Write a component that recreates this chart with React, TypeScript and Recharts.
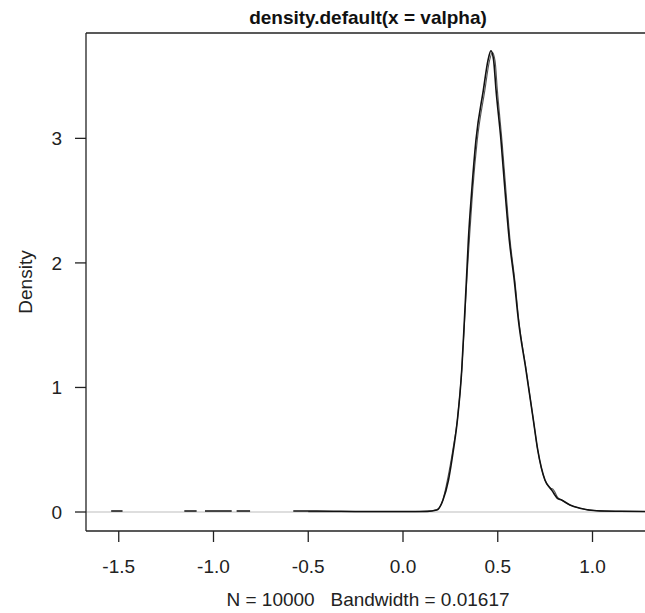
import React from 'react';
import { LineChart, Line, XAxis, YAxis, ReferenceLine, Label } from 'recharts';

// main density curve (black), null = gap where only the grey zero line shows
const curveAX = [-1.54, -1.48, -1.3, -1.154, -1.089, -1.067, -1.045, -0.904, -0.89, -0.878, -0.807, -0.7, -0.579, -0.455, -0.2, 0.0, 0.127, 0.179, 0.211, 0.24, 0.266, 0.287, 0.31, 0.324, 0.336, 0.345, 0.363, 0.385, 0.424, 0.449, 0.464, 0.478, 0.491, 0.517, 0.538, 0.561, 0.587, 0.609, 0.649, 0.688, 0.711, 0.749, 0.776, 0.79, 0.8, 0.815, 0.837, 0.881, 0.934, 1.022, 1.145, 1.303];
const curveAY = [0.008, 0.008, null, 0.008, 0.008, null, 0.008, 0.008, null, 0.008, 0.008, null, 0.008, 0.008, 0.004, 0.004, 0.005, 0.016, 0.096, 0.257, 0.498, 0.738, 1.14, 1.541, 1.902, 2.183, 2.585, 2.986, 3.387, 3.63, 3.704, 3.63, 3.387, 2.986, 2.585, 2.183, 1.862, 1.541, 1.14, 0.738, 0.498, 0.257, 0.193, 0.165, 0.14, 0.11, 0.096, 0.056, 0.03, 0.01, 0.006, 0.004];

// second, thinner curve laid over the first
const curveBX = [-0.5, 0.0, 0.127, 0.179, 0.211, 0.236, 0.263, 0.287, 0.31, 0.325, 0.338, 0.35, 0.368, 0.392, 0.432, 0.456, 0.472, 0.486, 0.498, 0.522, 0.543, 0.565, 0.59, 0.611, 0.65, 0.688, 0.711, 0.749, 0.776, 0.79, 0.8, 0.815, 0.837, 0.881, 0.934, 1.022, 1.145, 1.303];
const curveBY = [0.003, 0.003, 0.005, 0.02, 0.1, 0.27, 0.5, 0.74, 1.14, 1.54, 1.9, 2.18, 2.585, 2.986, 3.387, 3.62, 3.69, 3.62, 3.387, 2.986, 2.585, 2.183, 1.862, 1.541, 1.14, 0.738, 0.498, 0.257, 0.193, 0.185, 0.165, 0.12, 0.096, 0.056, 0.03, 0.01, 0.006, 0.004];

const xTicks = [-1.5, -1.0, -0.5, 0.0, 0.5, 1.0];
const yTicks = [0, 1, 2, 3];

const title = 'density.default(x = valpha)';
const xLabel = 'N = 10000   Bandwidth = 0.01617';
const yLabel = 'Density';

const dataA = curveAX.map((x, i) => ({ x, y: curveAY[i] }));
const dataB = curveBX.map((x, i) => ({ x, y: curveBY[i] }));

const X_DOMAIN = [-1.6728, 1.3034];
const Y_DOMAIN = [-0.1525, 3.846];
const FONT = '"Liberation Sans", Arial, sans-serif';
const INK = '#222';

const App: React.FC = () => {
  return (
    <div style={{ position: 'absolute', left: 0, top: 0, width: 645, height: 613, overflow: 'hidden', background: '#fff' }}>
      <LineChart width={650} height={613} margin={{ top: 0, right: 0, bottom: 0, left: 0 }} style={{ fontFamily: FONT }}>
        <XAxis
          xAxisId="top"
          orientation="top"
          type="number"
          dataKey="x"
          domain={X_DOMAIN}
          allowDataOverflow
          height={33}
          tick={false}
          tickLine={false}
          axisLine={{ stroke: INK, strokeWidth: 1.3 }}
        >
          <Label
            content={({ viewBox }: any) => (
              <text x={viewBox.x + viewBox.width / 2} y={24} textAnchor="middle" fontSize={19} fontWeight="bold" fill="#111" fontFamily={FONT}>
                {title}
              </text>
            )}
          />
        </XAxis>
        <XAxis
          type="number"
          dataKey="x"
          domain={X_DOMAIN}
          allowDataOverflow
          ticks={xTicks}
          tickFormatter={(v: number) => v.toFixed(1)}
          height={82}
          tickSize={11}
          tickMargin={18}
          tick={{ fontSize: 19, fill: INK, fontFamily: FONT }}
          tickLine={{ stroke: INK, strokeWidth: 1.3 }}
          axisLine={{ stroke: INK, strokeWidth: 1.3 }}
        >
          <Label
            content={({ viewBox }: any) => (
              <text
                x={viewBox.x + viewBox.width / 2}
                y={606}
                textAnchor="middle"
                fontSize={19}
                fill={INK}
                fontFamily={FONT}
                xmlSpace="preserve"
                style={{ whiteSpace: 'pre' }}
              >
                {xLabel}
              </text>
            )}
          />
        </XAxis>
        <YAxis
          type="number"
          domain={Y_DOMAIN}
          allowDataOverflow
          ticks={yTicks}
          width={86}
          tickSize={11}
          tickMargin={13}
          tick={{ fontSize: 19, fill: INK, fontFamily: FONT }}
          tickLine={{ stroke: INK, strokeWidth: 1.3 }}
          axisLine={{ stroke: INK, strokeWidth: 1.3 }}
        >
          <Label
            content={({ viewBox }: any) => {
              const cy = viewBox.y + viewBox.height / 2;
              return (
                <text x={32} y={cy} transform={`rotate(-90, 32, ${cy})`} textAnchor="middle" fontSize={19} fill={INK} fontFamily={FONT}>
                  {yLabel}
                </text>
              );
            }}
          />
        </YAxis>
        <ReferenceLine y={0} stroke="#bdbdbd" strokeWidth={1} />
        <Line data={dataB} dataKey="y" type="monotone" stroke="#555" strokeWidth={1.1} dot={false} isAnimationActive={false} />
        <Line data={dataA} dataKey="y" type="monotone" stroke="#111" strokeWidth={1.6} dot={false} connectNulls={false} isAnimationActive={false} />
      </LineChart>
    </div>
  );
};

export default App;
